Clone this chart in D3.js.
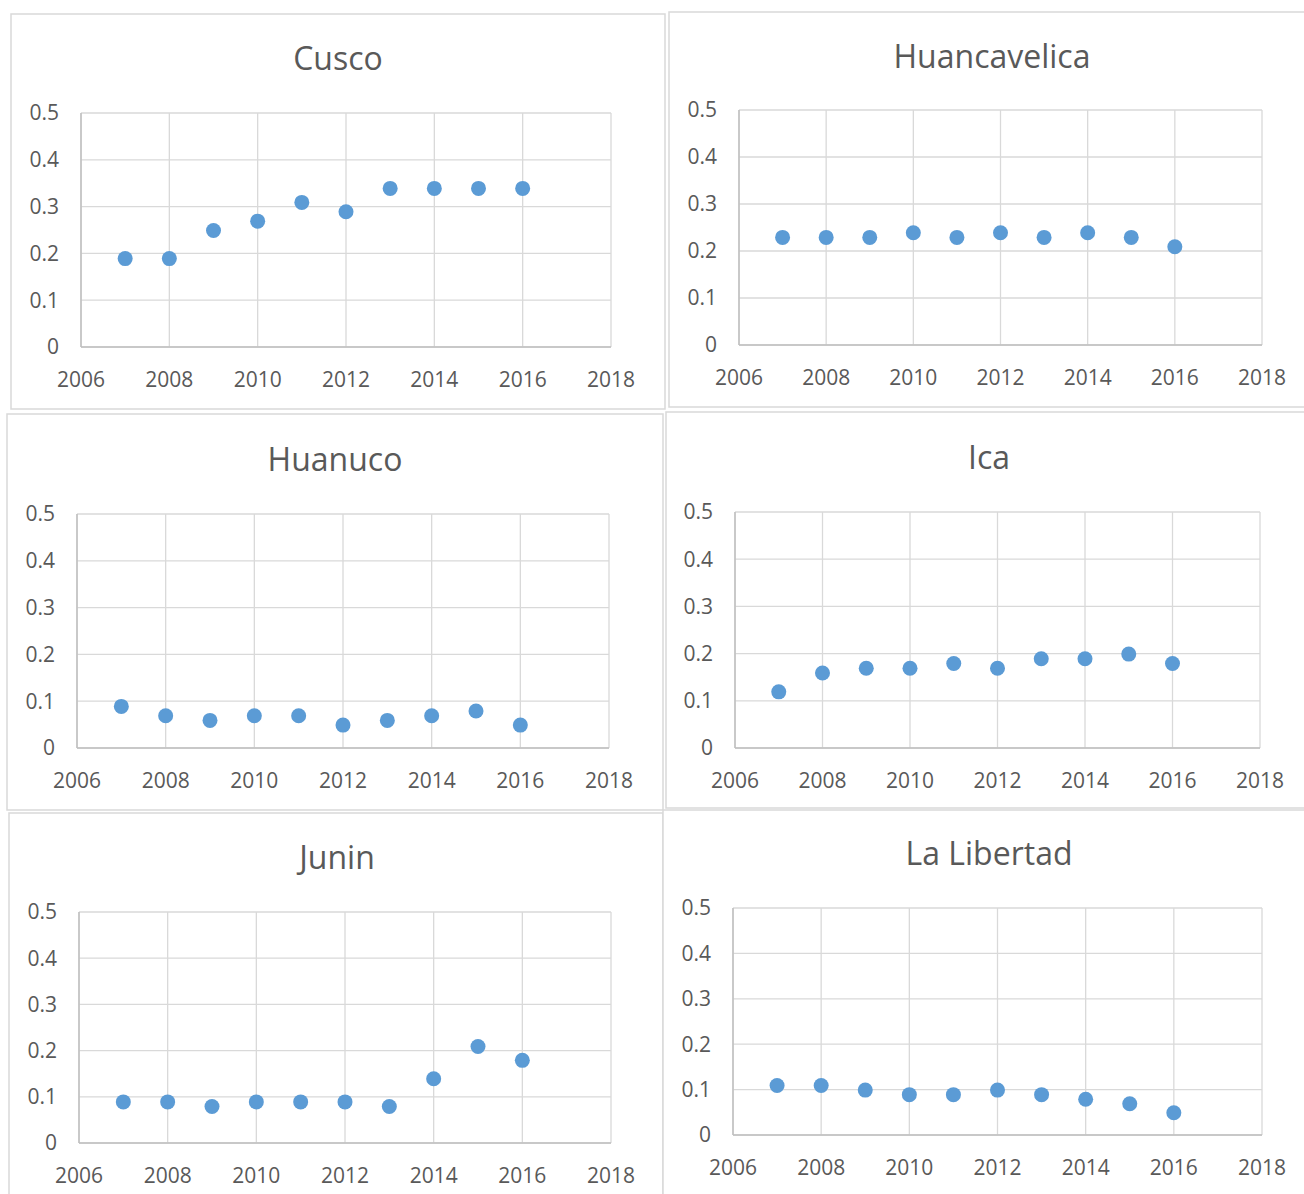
<!DOCTYPE html>
<html lang="en">
  <head>
    <meta charset="utf-8" />
    <script src="https://cdn.jsdelivr.net/npm/d3@7/dist/d3.min.js"></script>
    <title>Regiones</title>
    <style>
      body { margin: 0; background: #fff; }
      text { font-family: "Open Sans", "Noto Sans", sans-serif; fill: #595959; }
      .frame { fill: #fff; stroke: #d9d9d9; stroke-width: 1.5; }
      .grid line { stroke: #d9d9d9; stroke-width: 1.3; }
      .axisline { stroke: #bfbfbf; stroke-width: 1.5; }
    </style>
  </head>
  <body>
    <div id="container"></div>
    <script>
      const width = 1304;
      const height = 1194;

      const years = [2007, 2008, 2009, 2010, 2011, 2012, 2013, 2014, 2015, 2016];
      const xTicks = [2006, 2008, 2010, 2012, 2014, 2016, 2018];
      const yTicks = [0, 0.1, 0.2, 0.3, 0.4, 0.5];

      const regions = ["Cusco", "Huancavelica", "Huanuco", "Ica", "Junin", "La Libertad"];
      const cusco = [0.19, 0.19, 0.25, 0.27, 0.31, 0.29, 0.34, 0.34, 0.34, 0.34];
      const huancavelica = [0.23, 0.23, 0.23, 0.24, 0.23, 0.24, 0.23, 0.24, 0.23, 0.21];
      const huanuco = [0.09, 0.07, 0.06, 0.07, 0.07, 0.05, 0.06, 0.07, 0.08, 0.05];
      const ica = [0.12, 0.16, 0.17, 0.17, 0.18, 0.17, 0.19, 0.19, 0.2, 0.18];
      const junin = [0.09, 0.09, 0.08, 0.09, 0.09, 0.09, 0.08, 0.14, 0.21, 0.18];
      const laLibertad = [0.11, 0.11, 0.1, 0.09, 0.09, 0.1, 0.09, 0.08, 0.07, 0.05];
      const series = [cusco, huancavelica, huanuco, ica, junin, laLibertad];

      // panel frame and plot area (x0, x1, y0 top, y1 bottom), title position
      const frames = [
        { box: [11, 14, 665, 409], plot: [81, 611, 113, 347], title: [338, 59] },
        { box: [669, 12, 1312, 407], plot: [739, 1262, 110, 345], title: [992, 57] },
        { box: [7, 414, 663, 810], plot: [77, 609, 514, 748], title: [335, 460] },
        { box: [666, 412, 1312, 808], plot: [735, 1260, 512, 748], title: [989, 458] },
        { box: [9, 813, 663, 1200], plot: [79, 611, 912, 1143], title: [337, 858] },
        { box: [663, 810, 1312, 1200], plot: [733, 1262, 908, 1135], title: [989, 854] }
      ];

      const svg = d3.select("#container").append("svg").attr("width", width).attr("height", height);

      regions.forEach((name, i) => {
        const f = frames[i];
        const vals = series[i];
        const g = svg.append("g");

        g.append("rect").attr("class", "frame")
          .attr("x", f.box[0]).attr("y", f.box[1])
          .attr("width", f.box[2] - f.box[0]).attr("height", f.box[3] - f.box[1]);

        const x = d3.scaleLinear().domain([2006, 2018]).range([f.plot[0], f.plot[1]]);
        const y = d3.scaleLinear().domain([0, 0.5]).range([f.plot[3], f.plot[2]]);

        // gridlines
        const grid = g.append("g").attr("class", "grid");
        grid.selectAll(".h").data(yTicks).join("line")
          .attr("x1", x(2006)).attr("x2", x(2018))
          .attr("y1", d => y(d)).attr("y2", d => y(d));
        grid.selectAll(".v").data(xTicks).join("line")
          .attr("x1", d => x(d)).attr("x2", d => x(d))
          .attr("y1", y(0)).attr("y2", y(0.5));

        // axis lines
        g.append("line").attr("class", "axisline")
          .attr("x1", x(2006)).attr("x2", x(2006)).attr("y1", y(0)).attr("y2", y(0.5));
        g.append("line").attr("class", "axisline")
          .attr("x1", x(2006)).attr("x2", x(2018)).attr("y1", y(0)).attr("y2", y(0));

        // tick labels
        g.selectAll(".yl").data(yTicks).join("text")
          .attr("x", x(2006) - 22).attr("y", d => y(d))
          .attr("dy", "0.35em").attr("text-anchor", "end")
          .style("font-size", "21px")
          .text(d => d === 0 ? "0" : d3.format(".1f")(d));
        g.selectAll(".xl").data(xTicks).join("text")
          .attr("x", d => x(d)).attr("y", y(0) + 40)
          .attr("text-anchor", "middle")
          .style("font-size", "21px")
          .text(d => d);

        g.append("text")
          .attr("x", f.title[0]).attr("y", f.title[1])
          .attr("dy", "0.35em").attr("text-anchor", "middle")
          .style("font-size", "32px")
          .text(name);

        g.selectAll("circle").data(years.map((yr, j) => [yr, vals[j]])).join("circle")
          .attr("cx", d => x(d[0])).attr("cy", d => y(d[1]) + 0.5)
          .attr("r", 7.5).attr("fill", "#5b9bd5");
      });
    </script>
  </body>
</html>
